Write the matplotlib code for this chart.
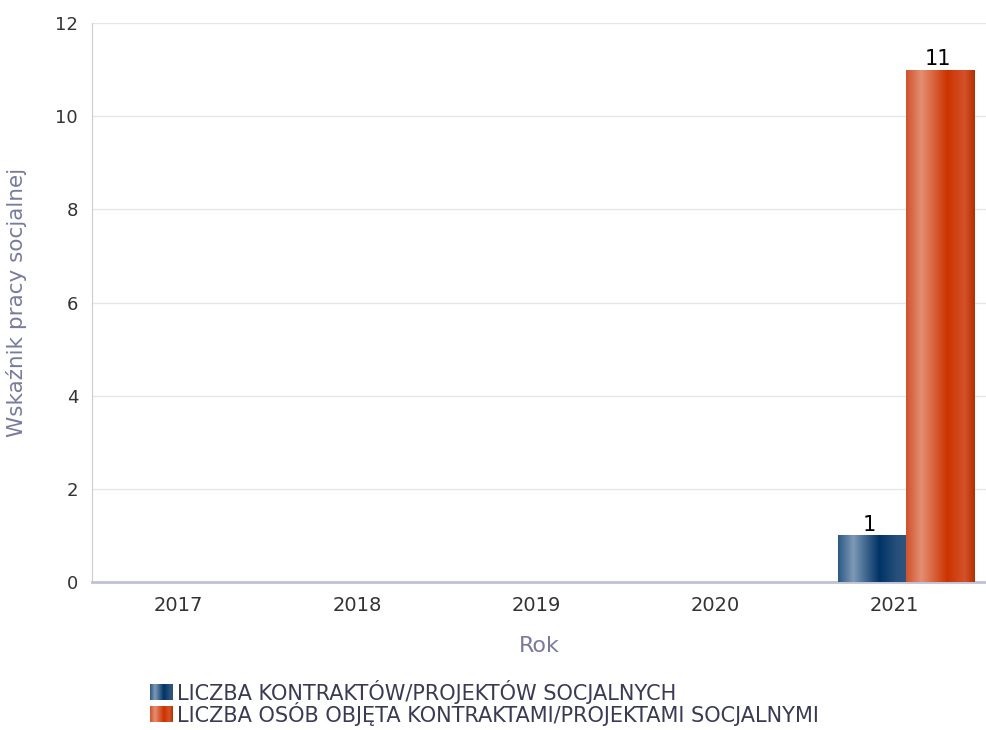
import numpy as np
import matplotlib
matplotlib.use("Agg")
import matplotlib.pyplot as plt
from matplotlib.colors import LinearSegmentedColormap

years = ["2017", "2018", "2019", "2020", "2021"]
kontrakty = [0, 0, 0, 0, 1]
osoby = [0, 0, 0, 0, 11]
series_names = ["LICZBA KONTRAKTÓW/PROJEKTÓW SOCJALNYCH",
                "LICZBA OSÓB OBJĘTA KONTRAKTAMI/PROJEKTAMI SOCJALNYMI"]

blue_cmap = LinearSegmentedColormap.from_list(
    "blue", [(0, "#2c5883"), (0.22, "#7e99b6"), (0.6, "#003366"), (0.85, "#264f7a"), (1, "#2f5680")])
orange_cmap = LinearSegmentedColormap.from_list(
    "orange", [(0, "#d0522b"), (0.22, "#e48f72"), (0.6, "#cc3300"), (0.85, "#d4522a"), (1, "#b52f00")])
grad = np.linspace(0, 1, 256).reshape(1, -1)

plt.rcParams['font.family'] = ['DejaVu Sans']

fig = plt.figure(figsize=(9.87, 7.3), dpi=100)
ax = fig.add_axes([0.0932, 0.2027, 0.9068, 0.7658])

x = np.arange(len(years))
w = 0.38


def gradient_bars(xpos, vals, cmap):
    bars = ax.bar(xpos, vals, w, color="none", edgecolor="none", zorder=3)
    for b, v in zip(bars, vals):
        if v <= 0:
            continue
        x0, y0 = b.get_x(), b.get_y()
        im = ax.imshow(grad, cmap=cmap, aspect="auto", zorder=3,
                       extent=[x0, x0 + b.get_width(), y0, y0 + b.get_height()])
        im.set_clip_path(b)
        ax.text(x0 + b.get_width() / 2 - 0.015, v + 0.02, f"{v:g}", ha="center", va="bottom",
                fontsize=15, color="black", zorder=4)
    return bars


gradient_bars(x - w / 2 + 0.05, kontrakty, blue_cmap)
gradient_bars(x + w / 2 + 0.05, osoby, orange_cmap)

ax.set_xlim(-0.5, 4.5)
ax.set_ylim(0, 12)
ax.set_yticks(range(0, 13, 2))
ax.set_xticks(x - 0.02)
ax.set_xticklabels(years)
ax.grid(axis="y", color="#e6e6e6", linewidth=1, zorder=0)
ax.set_axisbelow(True)
for s in ["top", "right"]:
    ax.spines[s].set_visible(False)
ax.spines["left"].set_color("#cccccc")
ax.spines["left"].set_linewidth(0.8)
ax.spines["bottom"].set_color("#c0c0d8")
ax.spines["bottom"].set_linewidth(2)
ax.tick_params(axis="x", length=0, labelsize=14, colors="#333333", pad=10)
ax.tick_params(axis="y", length=0, labelsize=13, colors="#333333", pad=10)
ax.set_xlabel("Rok", fontsize=16, color="#7a7aa0", labelpad=15)
ax.set_ylabel("Wskaźnik pracy socjalnej", fontsize=15.5, color="#7a7aa0", labelpad=20)

# legend drawn by hand so the swatches keep the gradient
for i, (name, cmap) in enumerate(zip(series_names, [blue_cmap, orange_cmap])):
    yc = 1 - (692 + 22 * i) / 730
    sw = fig.add_axes([150 / 987, yc - 8 / 730, 22 / 987, 16 / 730])
    sw.imshow(grad, cmap=cmap, aspect="auto")
    sw.axis("off")
    fig.text(177 / 987, yc, name, fontsize=15, color="#3a3a55",
             va="center", ha="left")

fig.savefig("out.png", dpi=100)
